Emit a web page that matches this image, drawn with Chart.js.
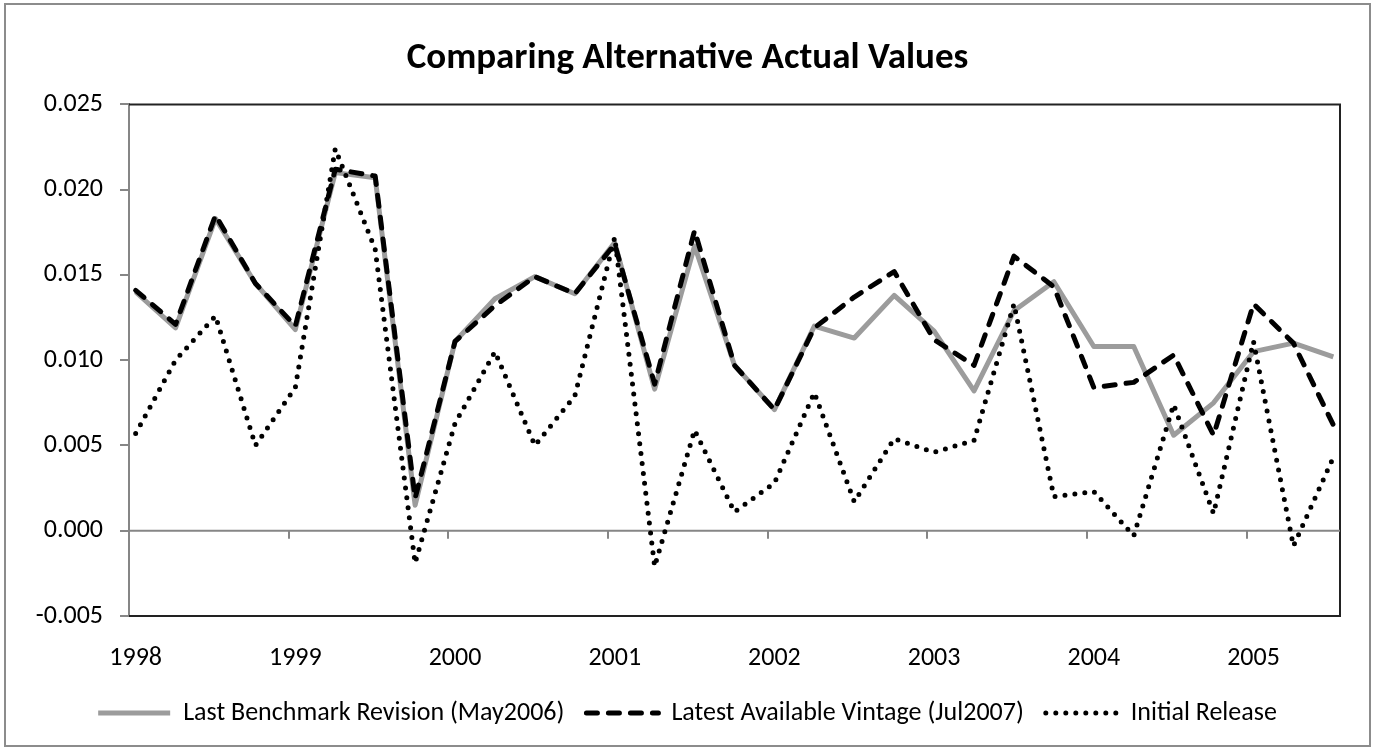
<!DOCTYPE html>
<html>
<head>
<meta charset="utf-8">
<title>Comparing Alternative Actual Values</title>
<script src="https://cdn.jsdelivr.net/npm/chart.js@4.4.1/dist/chart.umd.min.js"></script>
<style>
  html, body { margin: 0; padding: 0; background: #fff; }
  #wrap { width: 1375px; height: 750px; }
</style>
</head>
<body>
<div id="wrap"><canvas id="chart" width="1375" height="750"></canvas></div>
<script>
const quarters = [
  "1998Q1", "1998Q2", "1998Q3", "1998Q4",
  "1999Q1", "1999Q2", "1999Q3", "1999Q4",
  "2000Q1", "2000Q2", "2000Q3", "2000Q4",
  "2001Q1", "2001Q2", "2001Q3", "2001Q4",
  "2002Q1", "2002Q2", "2002Q3", "2002Q4",
  "2003Q1", "2003Q2", "2003Q3", "2003Q4",
  "2004Q1", "2004Q2", "2004Q3", "2004Q4",
  "2005Q1", "2005Q2", "2005Q3"
];

const benchmark = [
  0.0140, 0.0119, 0.0183, 0.0145, 0.0118, 0.0210, 0.0207, 0.0015,
  0.0111, 0.0136, 0.0149, 0.0139, 0.0169, 0.0083, 0.0167, 0.0097,
  0.0071, 0.0120, 0.0113, 0.0138, 0.0117, 0.0082, 0.0129, 0.0146,
  0.0108, 0.0108, 0.0056, 0.0075, 0.0105, 0.0110, 0.0102
];

const vintage = [
  0.0141, 0.0121, 0.0185, 0.0145, 0.0120, 0.0212, 0.0208, 0.0019,
  0.0111, 0.0132, 0.0149, 0.0139, 0.0168, 0.0086, 0.0176, 0.0097,
  0.0071, 0.0119, 0.0137, 0.0152, 0.0112, 0.0097, 0.0161, 0.0143,
  0.0084, 0.0087, 0.0103, 0.0056, 0.0133, 0.0110, 0.0062
];

const initial = [
  0.0057, 0.0100, 0.0126, 0.0050, 0.0084, 0.0224, 0.0165, -0.0019,
  0.0063, 0.0105, 0.0050, 0.0079, 0.0172, -0.0021, 0.0059, 0.0011,
  0.0028, 0.0081, 0.0017, 0.0054, 0.0046, 0.0053, 0.0133, 0.0020,
  0.0023, -0.0003, 0.0074, 0.0010, 0.0111, -0.0009, 0.0043
];

const years = [1998, 1999, 2000, 2001, 2002, 2003, 2004, 2005];
const yTicks = [-0.005, 0.000, 0.005, 0.010, 0.015, 0.020, 0.025];

const FONT = "Carlito, Lato, 'Open Sans', sans-serif";
const halfMonth = 1 / 24;

// quarter string -> fractional year
function qx(q) {
  return Number(q.slice(0, 4)) + (Number(q.slice(5)) - 1) / 4;
}

function pts(values) {
  return values.map((v, i) => ({ x: qx(quarters[i]), y: v }));
}

// frame, zero line with year ticks, outer border
const framePlugin = {
  id: "frame",
  beforeDatasetsDraw(chart) {
    const ctx = chart.ctx;
    const a = chart.chartArea;
    const xs = chart.scales.x;
    const ys = chart.scales.y;
    ctx.save();
    ctx.strokeStyle = "#222";
    ctx.lineWidth = 2;
    ctx.beginPath();
    ctx.moveTo(a.left, a.top);
    ctx.lineTo(a.right, a.top);
    ctx.lineTo(a.right, a.bottom);
    ctx.lineTo(a.left, a.bottom);
    ctx.stroke();

    const y0 = ys.getPixelForValue(0);
    ctx.strokeStyle = "#868686";
    ctx.beginPath();
    ctx.moveTo(a.left, y0);
    ctx.lineTo(a.right, y0);
    years.forEach(yr => {
      const px = Math.round(xs.getPixelForValue(yr - halfMonth));
      if (px > a.left + 2) {
        ctx.moveTo(px, y0);
        ctx.lineTo(px, y0 + 8);
      }
    });
    ctx.stroke();
    ctx.restore();
  },
  afterDraw(chart) {
    const ctx = chart.ctx;
    ctx.save();
    ctx.strokeStyle = "#8c8c8c";
    ctx.lineWidth = 2;
    ctx.strokeRect(5, 4, chart.width - 10, chart.height - 8);
    ctx.restore();
  }
};

// legend samples keep the dataset's dash pattern
function legendItems(chart) {
  return chart.data.datasets.map((ds, i) => ({
    text: ds.label,
    datasetIndex: i,
    fillStyle: ds.borderColor,
    strokeStyle: ds.borderColor,
    fontColor: "#000",
    lineWidth: ds.borderWidth,
    lineDash: ds.borderDash || [],
    lineCap: ds.borderCapStyle || "butt",
    pointStyle: "line",
    hidden: false
  }));
}

new Chart(document.getElementById("chart").getContext("2d"), {
  type: "line",
  data: {
    datasets: [
      {
        label: "Last Benchmark Revision (May2006)",
        data: pts(benchmark),
        borderColor: "#9c9c9c",
        backgroundColor: "#9c9c9c",
        borderWidth: 5,
        order: 3
      },
      {
        label: "Latest Available Vintage (Jul2007)",
        data: pts(vintage),
        borderColor: "#000",
        backgroundColor: "#000",
        borderWidth: 5,
        borderDash: [11, 11],
        borderCapStyle: "round",
        order: 2
      },
      {
        label: "Initial Release",
        data: pts(initial),
        borderColor: "#000",
        backgroundColor: "#000",
        borderWidth: 5,
        borderDash: [0, 10],
        borderCapStyle: "round",
        order: 1
      }
    ]
  },
  options: {
    responsive: false,
    animation: false,
    parsing: false,
    elements: {
      point: { radius: 0, hoverRadius: 0 },
      line: { tension: 0, borderJoinStyle: "round" }
    },
    layout: { padding: { left: 0, right: 0, top: 1, bottom: 14 } },
    plugins: {
      tooltip: { enabled: false },
      title: {
        display: true,
        text: "Comparing Alternative Actual Values",
        color: "#000",
        font: { family: FONT, size: 37, weight: "bold" },
        padding: { top: 36, bottom: 23 }
      },
      legend: {
        position: "bottom",
        labels: {
          color: "#000",
          font: { family: FONT, size: 26 },
          usePointStyle: true,
          pointStyle: "line",
          pointStyleWidth: 72,
          boxHeight: 26,
          padding: 22,
          generateLabels: legendItems
        }
      }
    },
    scales: {
      x: {
        type: "linear",
        min: years[0] - halfMonth,
        max: qx(quarters[quarters.length - 1]) + halfMonth,
        grid: { display: false, drawTicks: false },
        border: { display: false },
        afterBuildTicks: s => { s.ticks = years.map(v => ({ value: v })); },
        afterFit: s => { s.height = 62; },
        ticks: {
          color: "#000",
          font: { family: FONT, size: 26 },
          padding: 27,
          maxRotation: 0,
          autoSkip: false,
          callback: v => String(v)
        }
      },
      y: {
        min: yTicks[0],
        max: yTicks[yTicks.length - 1],
        afterBuildTicks: s => { s.ticks = yTicks.map(v => ({ value: v })); },
        afterFit: s => { s.width = 129; },
        grid: {
          drawOnChartArea: false,
          color: "#868686",
          lineWidth: 2,
          tickLength: 9
        },
        border: { display: true, color: "#868686", width: 2 },
        ticks: {
          color: "#000",
          font: { family: FONT, size: 26 },
          padding: 17,
          callback: v => v.toFixed(3)
        }
      },
      // empty right-hand gutter so the plot ends where the reference does
      gutter: {
        type: "linear",
        position: "right",
        display: true,
        grid: { display: false, drawTicks: false },
        border: { display: false },
        ticks: { display: false },
        afterFit: s => { s.width = 35; }
      }
    }
  },
  plugins: [framePlugin]
});
</script>
</body>
</html>
